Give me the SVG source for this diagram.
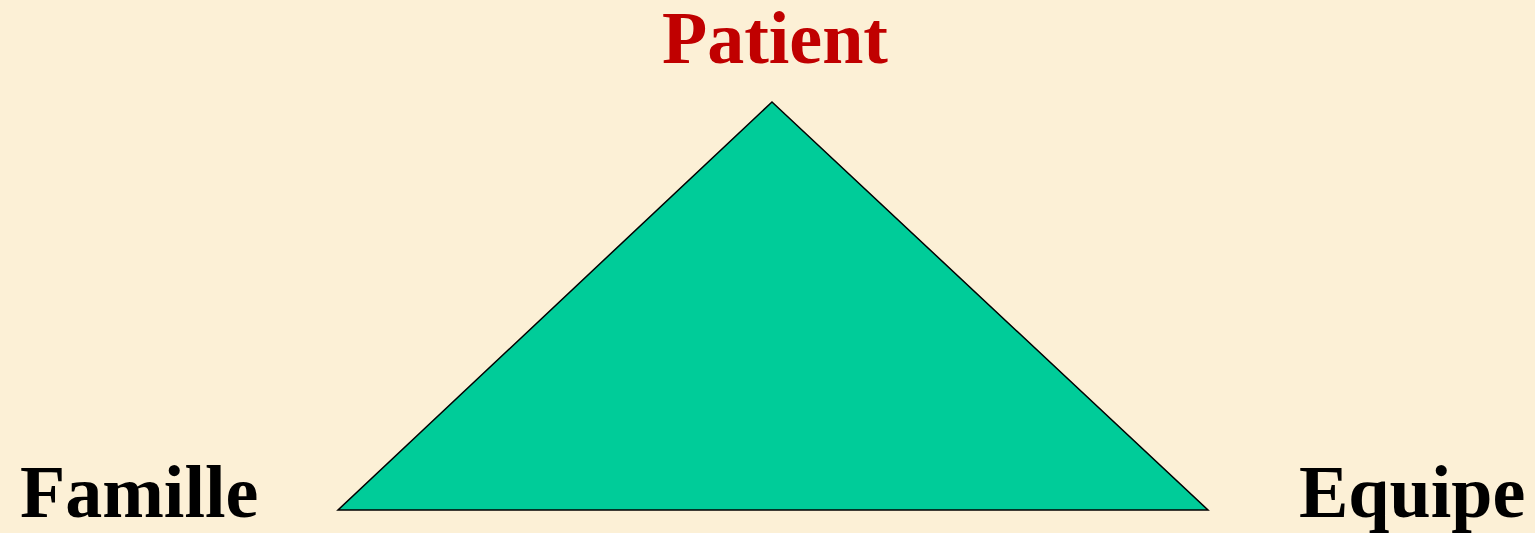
<svg xmlns="http://www.w3.org/2000/svg" width="1535" height="533" viewBox="0 0 1535 533">
<style>
.lbl{font-family:"Liberation Serif","Times New Roman",serif;font-weight:bold;font-size:74px}
</style>
<rect x="0" y="0" width="1535" height="533" fill="#FCF0D6"/>
<g id="triangle">
<polygon points="772,102 1208,510 338,510" fill="#00CC99" stroke="#000" stroke-width="1.5" stroke-linejoin="miter"/>
</g>
<g id="connectors"></g>
<g id="patient"><text class="lbl" x="775" y="63" text-anchor="middle" fill="#C00000">Patient</text></g>
<g id="famille"><text class="lbl" x="20" y="517" fill="#000">Famille</text></g>
<g id="equipe"><text class="lbl" x="1299" y="517" fill="#000">Equipe</text></g>
</svg>
